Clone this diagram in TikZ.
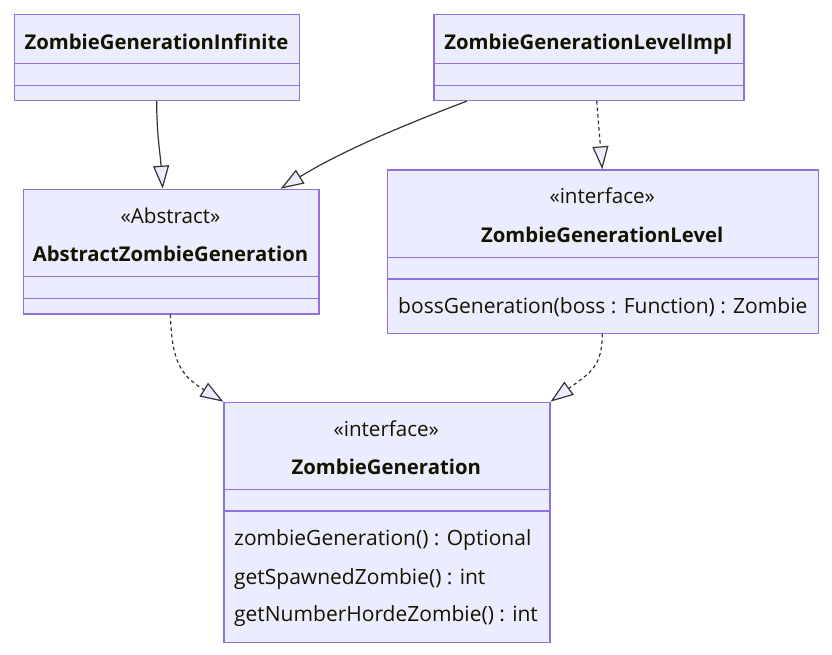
\documentclass[tikz,border=0pt]{standalone}
\usepackage{fontspec}
\setmainfont{Open Sans}
\usetikzlibrary{arrows.meta,calc}
\definecolor{boxfill}{HTML}{ECECFF}
\definecolor{boxline}{HTML}{9370DB}
\definecolor{txt}{HTML}{131300}
\definecolor{edgec}{HTML}{333333}
\begin{document}
\begin{tikzpicture}[x=1pt,y=-1pt,
  cls/.style={draw=boxline,fill=boxfill,line width=1.2pt,rectangle,inner sep=0pt,anchor=north west},
  divider/.style={draw=boxline,line width=1.2pt},
  title/.style={inner sep=0pt,anchor=base,text=txt,font=\fontsize{20.3}{24}\selectfont\bfseries},
  stereo/.style={inner sep=0pt,anchor=base,text=txt,font=\fontsize{20.6}{24}\selectfont},
  member/.style={inner sep=0pt,anchor=base west,text=txt,font=\fontsize{21}{24}\selectfont},
  rel/.style={draw=edgec,line width=1.2pt,-{Triangle[open,length=23pt,width=16pt,fill=boxfill]}},
  impl/.style={rel,dash pattern=on 3.5pt off 3pt}]
\useasboundingbox (0,0) rectangle (832,654);

% ZombieGenerationInfinite
\node[cls,minimum width=285.3pt,minimum height=86pt] (zgi) at (13.7,14) {};
\draw[divider] ($(zgi.north west)+(0,49.3)$) -- ($(zgi.north east)+(0,49.3)$);
\draw[divider] ($(zgi.north west)+(0,71.3)$) -- ($(zgi.north east)+(0,71.3)$);
\node[title] (zgiT) at (156.5,49.3) {ZombieGenerationInfinite};

% ZombieGenerationLevelImpl
\node[cls,minimum width=310pt,minimum height=86pt] (zgli) at (433.3,14) {};
\draw[divider] ($(zgli.north west)+(0,49.3)$) -- ($(zgli.north east)+(0,49.3)$);
\draw[divider] ($(zgli.north west)+(0,71.3)$) -- ($(zgli.north east)+(0,71.3)$);
\node[title] (zgliT) at (588.3,49.3) {ZombieGenerationLevelImpl};

% AbstractZombieGeneration
\node[cls,minimum width=295.6pt,minimum height=124.6pt] (azg) at (22.7,188.7) {};
\draw[divider] ($(azg.north west)+(0,87.6)$) -- ($(azg.north east)+(0,87.6)$);
\draw[divider] ($(azg.north west)+(0,109.6)$) -- ($(azg.north east)+(0,109.6)$);
\node[stereo] (azgS) at (170.5,223) {«Abstract»};
\node[title] (azgT) at (170.5,261.5) {AbstractZombieGeneration};

% ZombieGenerationLevel
\node[cls,minimum width=431pt,minimum height=163.4pt] (zgl) at (386.7,169.3) {};
\draw[divider] ($(zgl.north west)+(0,88)$) -- ($(zgl.north east)+(0,88)$);
\draw[divider] ($(zgl.north west)+(0,109.7)$) -- ($(zgl.north east)+(0,109.7)$);
\node[stereo] (zglS) at (602.2,203) {«interface»};
\node[title] (zglT) at (602.2,242) {ZombieGenerationLevel};
\node[member] (zglM) at (398,313) {bossGeneration(boss : Function) : Zombie};

% ZombieGeneration
\node[cls,minimum width=326pt,minimum height=240pt] (zg) at (223.3,401.7) {};
\draw[divider] ($(zg.north west)+(0,87.6)$) -- ($(zg.north east)+(0,87.6)$);
\draw[divider] ($(zg.north west)+(0,109.3)$) -- ($(zg.north east)+(0,109.3)$);
\node[stereo] (zgS) at (386.3,436) {«interface»};
\node[title] (zgT) at (386.3,474) {ZombieGeneration};
\node[member] (zgM1) at (234,545.7) {zombieGeneration() : Optional};
\node[member] (zgM2) at (234,584) {getSpawnedZombie() : int};
\node[member] (zgM3) at (234,621.7) {getNumberHordeZombie() : int};

% connector end points on the boxes
\coordinate (e1s) at ($(zgi.south west)+(143,0)$);
\coordinate (e1t) at ($(azg.north west)+(140,0)$);
\coordinate (e2s) at ($(zgli.south west)+(33.4,0)$);
\coordinate (e2t) at ($(azg.north west)+(258,0)$);
\coordinate (e3s) at ($(zgli.south west)+(163.4,0)$);
\coordinate (e3t) at ($(zgl.north west)+(215.6,0)$);
\coordinate (e4s) at ($(azg.south west)+(147.6,0)$);
\coordinate (e5s) at ($(zgl.south west)+(215.6,0)$);

\draw[rel] (e1s) .. controls ($(e1s)+(0,34)$) and ($(e1t)+(-2.7,-38)$) .. (e1t);
\draw[rel] (e2s) .. controls ($(e2s)+(-66.7,25.3)$) and ($(e2t)+(59.3,-36.7)$) .. (e2t);
\draw[impl] (e3s) -- (e3t);
\draw[impl] (e4s) .. controls ($(e4s)+(1.7,46.7)$) and ($(zg.north west)+(-43.3,-26.7)$) .. (zg.north west);
\draw[impl] (e5s) .. controls ($(e5s)+(0,32.3)$) and ($(zg.north east)+(40,-29)$) .. (zg.north east);
\end{tikzpicture}
\end{document}
